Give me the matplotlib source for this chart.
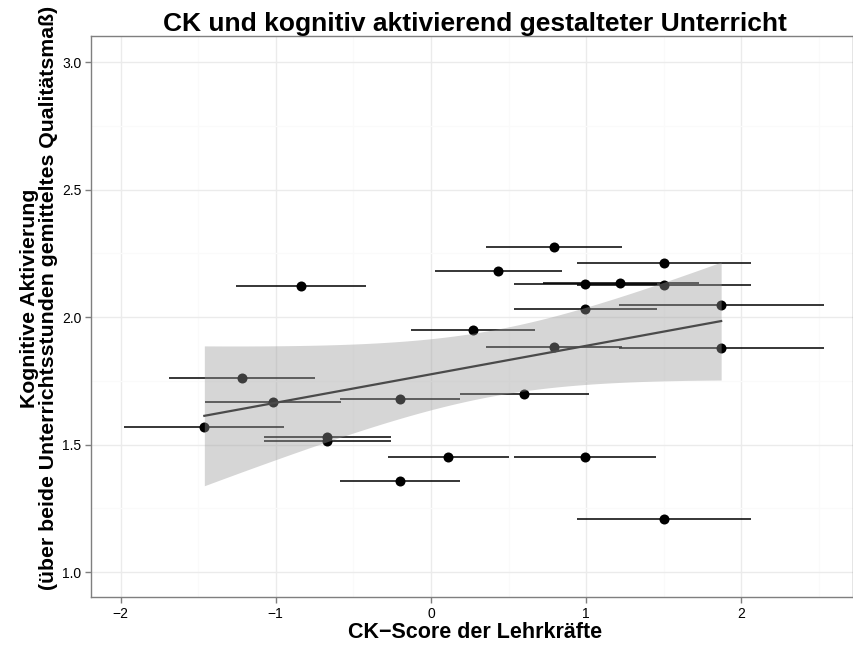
import numpy as np
import matplotlib
matplotlib.use("Agg")
import matplotlib.pyplot as plt

plt.rcParams['font.family'] = ['Liberation Sans', 'DejaVu Sans']

# CK-Score (x), Kognitive Aktivierung (y), and interval bounds for CK-Score
ck_score = [0.79, 1.50, 0.43, -0.84, 0.99, 1.22, 1.50, 1.87, 0.99, 0.27, 0.79, 1.87,
            -1.22, 0.60, -0.20, -1.02, -1.46, -0.67, -0.67, 0.11, 0.99, -0.20, 1.50]
kog_akt = [2.276, 2.210, 2.180, 2.123, 2.131, 2.135, 2.125, 2.048, 2.033, 1.948, 1.884, 1.878,
           1.761, 1.699, 1.678, 1.667, 1.570, 1.531, 1.515, 1.450, 1.450, 1.357, 1.207]
ck_lower = [0.357, 0.944, 0.026, -1.256, 0.534, 0.723, 0.944, 1.215, 0.534, -0.127, 0.357, 1.215,
            -1.686, 0.185, -0.587, -1.458, -1.976, -1.077, -1.077, -0.277, 0.535, -0.587, 0.944]
ck_upper = [1.230, 2.063, 0.843, -0.419, 1.454, 1.725, 2.063, 2.531, 1.454, 0.671, 1.230, 2.531,
            -0.748, 1.021, 0.190, -0.579, -0.944, -0.260, -0.260, 0.503, 1.452, 0.190, 2.063]

x_ticks = [-2, -1, 0, 1, 2]
x_labels = ['\u22122', '\u22121', '0', '1', '2']
y_ticks = [1.0, 1.5, 2.0, 2.5, 3.0]
y_labels = ['1.0', '1.5', '2.0', '2.5', '3.0']

x = np.array(ck_score)
y = np.array(kog_akt)

# linear fit with 95% confidence band (like geom_smooth(method = "lm"))
n = len(x)
slope, intercept = np.polyfit(x, y, 1)
resid = y - (intercept + slope * x)
s = np.sqrt(np.sum(resid ** 2) / (n - 2))
t_crit = 2.0796  # t(0.975, df = 21)
xs = np.linspace(x.min(), x.max(), 80)
fit = intercept + slope * xs
se = s * np.sqrt(1 / n + (xs - x.mean()) ** 2 / np.sum((x - x.mean()) ** 2))

fig = plt.figure(figsize=(8.54, 6.48), dpi=100)
ax = fig.add_axes([0.1066, 0.0787, 0.8923, 0.8657])

ax.hlines(y, ck_lower, ck_upper, color='black', linewidth=1.1, zorder=3)
ax.scatter(x, y, s=52, color='black', zorder=4, linewidths=0)
ax.fill_between(xs, fit - t_crit * se, fit + t_crit * se, color='#999999', alpha=0.4,
                linewidth=0, zorder=5)
ax.plot(xs, fit, color='#4a4a4a', linewidth=1.6, zorder=6)

ax.set_xlim(-2.19, 2.72)
ax.set_ylim(0.902, 3.102)

ax.set_xticks(x_ticks)
ax.set_xticklabels(x_labels)
ax.set_yticks(y_ticks)
ax.set_yticklabels(y_labels)
ax.set_xticks([-1.5, -0.5, 0.5, 1.5, 2.5], minor=True)
ax.set_yticks([1.25, 1.75, 2.25, 2.75], minor=True)
ax.grid(True, which='major', color='#ebebeb', linewidth=1.0, zorder=0)
ax.grid(True, which='minor', color='#fafafa', linewidth=1.0, zorder=0)
ax.set_axisbelow(True)
ax.tick_params(which='major', direction='out', length=4, width=1, color='#7f7f7f',
               labelsize=10, labelcolor='black', pad=3)
ax.tick_params(which='minor', length=0)
for sp in ax.spines.values():
    sp.set_color('#7f7f7f')
    sp.set_linewidth(1.0)

fig.text(0.556, 0.952, 'CK und kognitiv aktivierend gestalteter Unterricht', fontsize=19,
         fontweight='bold', ha='center', va='baseline')
ax.set_xlabel('CK\u2212Score der Lehrkr\u00e4fte', fontsize=15.5, fontweight='bold', labelpad=1)
ax.xaxis.label.set_x(0.504)
ax.set_ylabel('Kognitive Aktivierung\n(\u00fcber beide Unterrichtsstunden gemitteltes Qualit\u00e4tsma\u00df)',
              fontsize=15.3, fontweight='bold', labelpad=3, linespacing=1.0)
ax.yaxis.label.set_y(0.533)

fig.savefig('out.png', dpi=100)
